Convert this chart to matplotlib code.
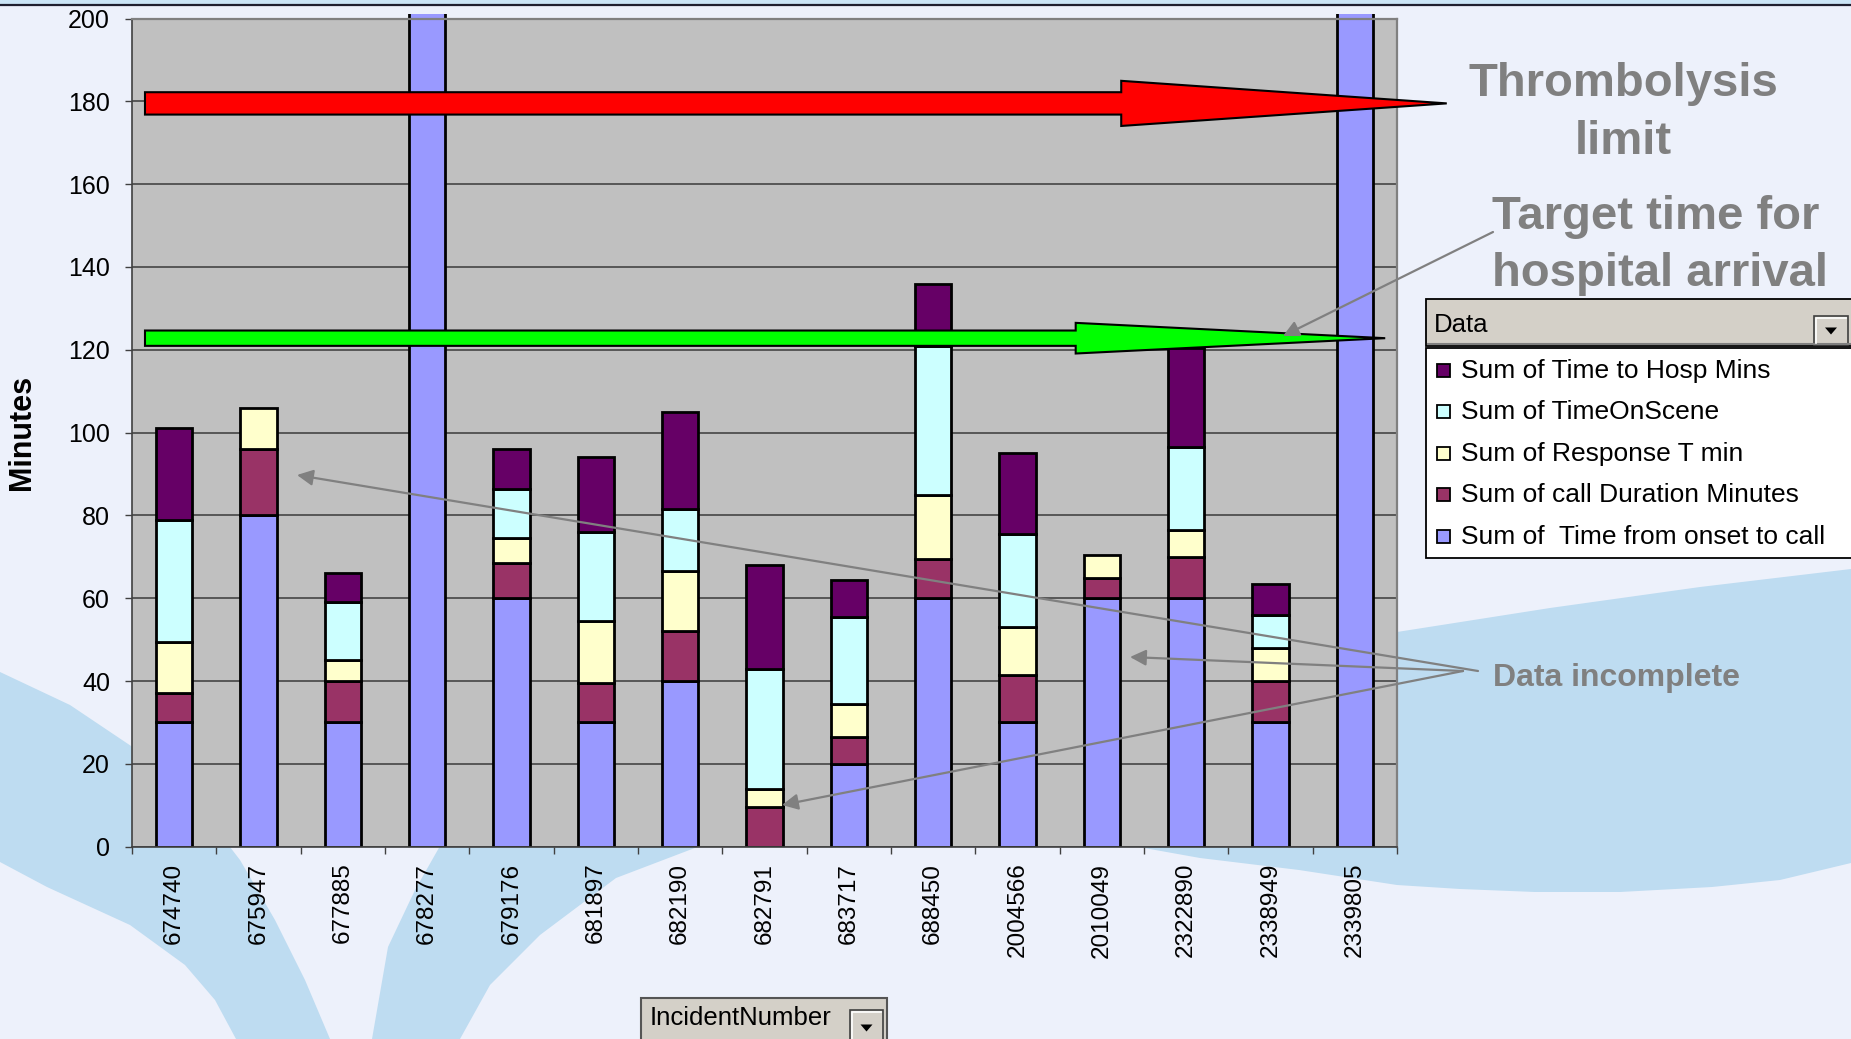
import numpy as np
import matplotlib
matplotlib.use('Agg')
import matplotlib.pyplot as plt
import matplotlib.patches as mpatches

plt.rcParams['font.family'] = ['Liberation Sans', 'DejaVu Sans']

# data (minutes, stacked bottom -> top)
incidents = ['674740', '675947', '677885', '678277', '679176', '681897', '682190', '682791',
             '683717', '688450', '2004566', '2010049', '2322890', '2338949', '2339805']
# 678277 and 2339805 run off the top of the scale (> 200)
onset_to_call = [30, 80, 30, 250, 60, 30, 40, 0, 20, 60, 30, 60, 60, 30, 250]
call_duration = [7, 16, 10, 0, 8.5, 9.5, 12, 9.5, 6.5, 9.5, 11.5, 5, 10, 10, 0]
response_t = [12.5, 10, 5, 0, 6, 15, 14.5, 4.5, 8, 15.5, 11.5, 5.5, 6.5, 8, 0]
time_on_scene = [29.5, 0, 14, 0, 12, 21.5, 15, 29, 21, 36, 22.5, 0, 20, 8, 0]
time_to_hosp = [22, 0, 7, 0, 9.5, 18, 23.5, 25, 9, 15, 19.5, 0, 24, 7.5, 0]

series_names = ['Sum of  Time from onset to call', 'Sum of call Duration Minutes',
                'Sum of Response T min', 'Sum of TimeOnScene', 'Sum of Time to Hosp Mins']
series_colors = ['#9999FF', '#993366', '#FFFFCC', '#CCFFFF', '#660066']

thromb_y = 179.5   # red arrow
target_y = 122.8   # green arrow

W, H = 1851, 1039
fig = plt.figure(figsize=(W / 100, H / 100), dpi=100)
fig.patch.set_facecolor('#EDF1FB')

# background decoration, pixel coords
bg = fig.add_axes([0, 0, 1, 1], zorder=0)
bg.set_xlim(0, W)
bg.set_ylim(H, 0)
bg.axis('off')
deco = '#BEDCF1'
blob = [(1080, 760), (1150, 700), (1250, 662), (1397, 632), (1550, 608), (1700, 587), (1851, 569),
        (1900, 562), (1900, 850), (1851, 863), (1780, 880), (1712, 887), (1620, 892), (1535, 892),
        (1460, 889), (1397, 885), (1299, 870), (1200, 858), (1133, 846), (1095, 810)]
blade_a = [(0, 672), (70, 705), (140, 752), (200, 808), (240, 860), (275, 920), (305, 980), (330, 1039),
           (236, 1039), (215, 1000), (185, 965), (130, 925), (47, 887), (0, 862)]
blade_b = [(440, 846), (700, 846), (616, 878), (540, 935), (490, 985), (460, 1039),
           (372, 1039), (388, 947), (415, 890)]
for shape in (blob, blade_a, blade_b):
    bg.add_patch(mpatches.Polygon(shape, closed=True, fc=deco, lw=0))
bg.add_patch(mpatches.Rectangle((0, 0), W, 4.5, fc='#CBE5F6', lw=0))
bg.plot([0, W], [5.2, 5.2], color='#1F1F2F', lw=1.6)

# main chart
ax = fig.add_axes([132 / W, 1 - 846.7 / H, (1397 - 132) / W, (846.7 - 18.5) / H], zorder=1)
ax.set_facecolor('#C0C0C0')
ax.set_xlim(-0.5, len(incidents) - 0.5)
ax.set_ylim(0, 200)
clip_rect = mpatches.Rectangle((-0.5, 0), len(incidents), 201.2, transform=ax.transData)

x = np.arange(len(incidents))
series = [onset_to_call, call_duration, response_t, time_on_scene, time_to_hosp]
bottom = np.zeros(len(incidents))
for vals, color in zip(series, series_colors):
    vals = np.array(vals, dtype=float)
    m = vals > 0
    bars = ax.bar(x[m], vals[m], 0.43, bottom=bottom[m], color=color, edgecolor='black',
                  linewidth=2.0, zorder=2)
    for p in bars:
        p.set_clip_path(clip_rect)
    bottom += vals

ax.set_yticks(range(0, 201, 20))
ax.set_axisbelow(True)
ax.yaxis.grid(True, color='#3A3A3A', lw=1.1)
ax.tick_params(axis='y', length=5, width=1, pad=10.8, labelsize=18, color='#404040')
ax.set_xticks(x)
ax.set_xticklabels(incidents, rotation=90, fontsize=17.5)
ax.tick_params(axis='x', which='major', length=0, pad=11.5)
ax.set_xticks(np.arange(-0.5, len(incidents), 1), minor=True)
ax.tick_params(axis='x', which='minor', length=5, width=1, color='#404040')
for s in ['left', 'bottom']:
    ax.spines[s].set_color('#404040')
    ax.spines[s].set_linewidth(1.2)
for s in ['top', 'right']:
    ax.spines[s].set_color('#808080')
    ax.spines[s].set_linewidth(1.6)
ax.set_ylabel('Minutes', fontsize=22, fontweight='bold')
ax.yaxis.set_label_coords(-0.0751, 0.5)


def fat_arrow(y, x0, xh, xt, hs, hh, color):
    pts = [(x0, y + hs), (xh, y + hs), (xh, y + hh), (xt, y), (xh, y - hh), (xh, y - hs), (x0, y - hs)]
    ax.add_patch(mpatches.Polygon(pts, closed=True, fc=color, ec='black', lw=1.5,
                                  clip_on=False, zorder=5))


fat_arrow(thromb_y, -0.346, 11.23, 15.09, 2.7, 5.45, '#FF0000')
fat_arrow(target_y, -0.346, 10.69, 14.36, 1.85, 3.7, '#00FF00')

# overlay: notes, legend, field buttons (pixel coords)
ov = fig.add_axes([0, 0, 1, 1], zorder=3)
ov.set_xlim(0, W)
ov.set_ylim(H, 0)
ov.axis('off')
gray = '#808080'
ov.text(1623, 95.7, 'Thrombolysis', ha='center', va='baseline', fontsize=34, fontweight='bold', color=gray)
ov.text(1623, 153.6, 'limit', ha='center', va='baseline', fontsize=34, fontweight='bold', color=gray)
ov.text(1492, 228.6, 'Target time for', ha='left', va='baseline', fontsize=34, fontweight='bold', color=gray)
ov.text(1492, 286, 'hospital arrival', ha='left', va='baseline', fontsize=34, fontweight='bold', color=gray)
ov.text(1493, 686, 'Data incomplete', ha='left', va='baseline', fontsize=23, fontweight='bold', color=gray)

aprops = dict(arrowstyle='-|>', color=gray, lw=1.6, mutation_scale=24, shrinkA=0, shrinkB=0)
ov.annotate('', xy=(1283, 336), xytext=(1493, 232), arrowprops=aprops)
ov.annotate('', xy=(297, 475), xytext=(1478, 671), arrowprops=aprops)
ov.annotate('', xy=(1130, 657), xytext=(1463, 671), arrowprops=aprops)
ov.annotate('', xy=(782, 805), xytext=(1463, 671), arrowprops=aprops)


def drop_button(x0, y0, w, h):
    ov.add_patch(mpatches.Rectangle((x0, y0), w, h, fc='#D4D0C8', ec='#404040', lw=1.2))
    ov.plot([x0 + 2, x0 + 2, x0 + w - 2], [y0 + h - 2, y0 + 2, y0 + 2], color='white', lw=1.2)
    cxb, cyb = x0 + w / 2, y0 + h / 2
    ov.add_patch(mpatches.Polygon([(cxb - 6, cyb - 3), (cxb + 6, cyb - 3), (cxb, cyb + 4)],
                                  closed=True, fc='black', lw=0))


# legend ("Data" field)
ov.add_patch(mpatches.Rectangle((1426, 299), 440, 47, fc='#D4D0C8', ec='black', lw=1.3))
ov.plot([1428, 1851], [344, 344], color='#808080', lw=1.5)
ov.text(1434, 332, 'Data', ha='left', va='baseline', fontsize=18.5)
drop_button(1814, 316, 34, 29)
ov.add_patch(mpatches.Rectangle((1426, 348), 440, 210, fc='white', ec='black', lw=1.3))
bases = [377.9, 419.4, 460.9, 502.4, 543.9]
for base, name, color in zip(bases, series_names[::-1], series_colors[::-1]):
    ov.add_patch(mpatches.Rectangle((1437, base - 14), 13, 13, fc=color, ec='black', lw=1.3))
    ov.text(1461, base, name, ha='left', va='baseline', fontsize=19)

# row field button
ov.add_patch(mpatches.Rectangle((641, 998), 246, 60, fc='#D4D0C8', ec='#555555', lw=1.5))
ov.text(650, 1025, 'IncidentNumber', ha='left', va='baseline', fontsize=18.5)
drop_button(850, 1010, 33, 35)

fig.savefig('out.png', dpi=100, facecolor=fig.get_facecolor())
